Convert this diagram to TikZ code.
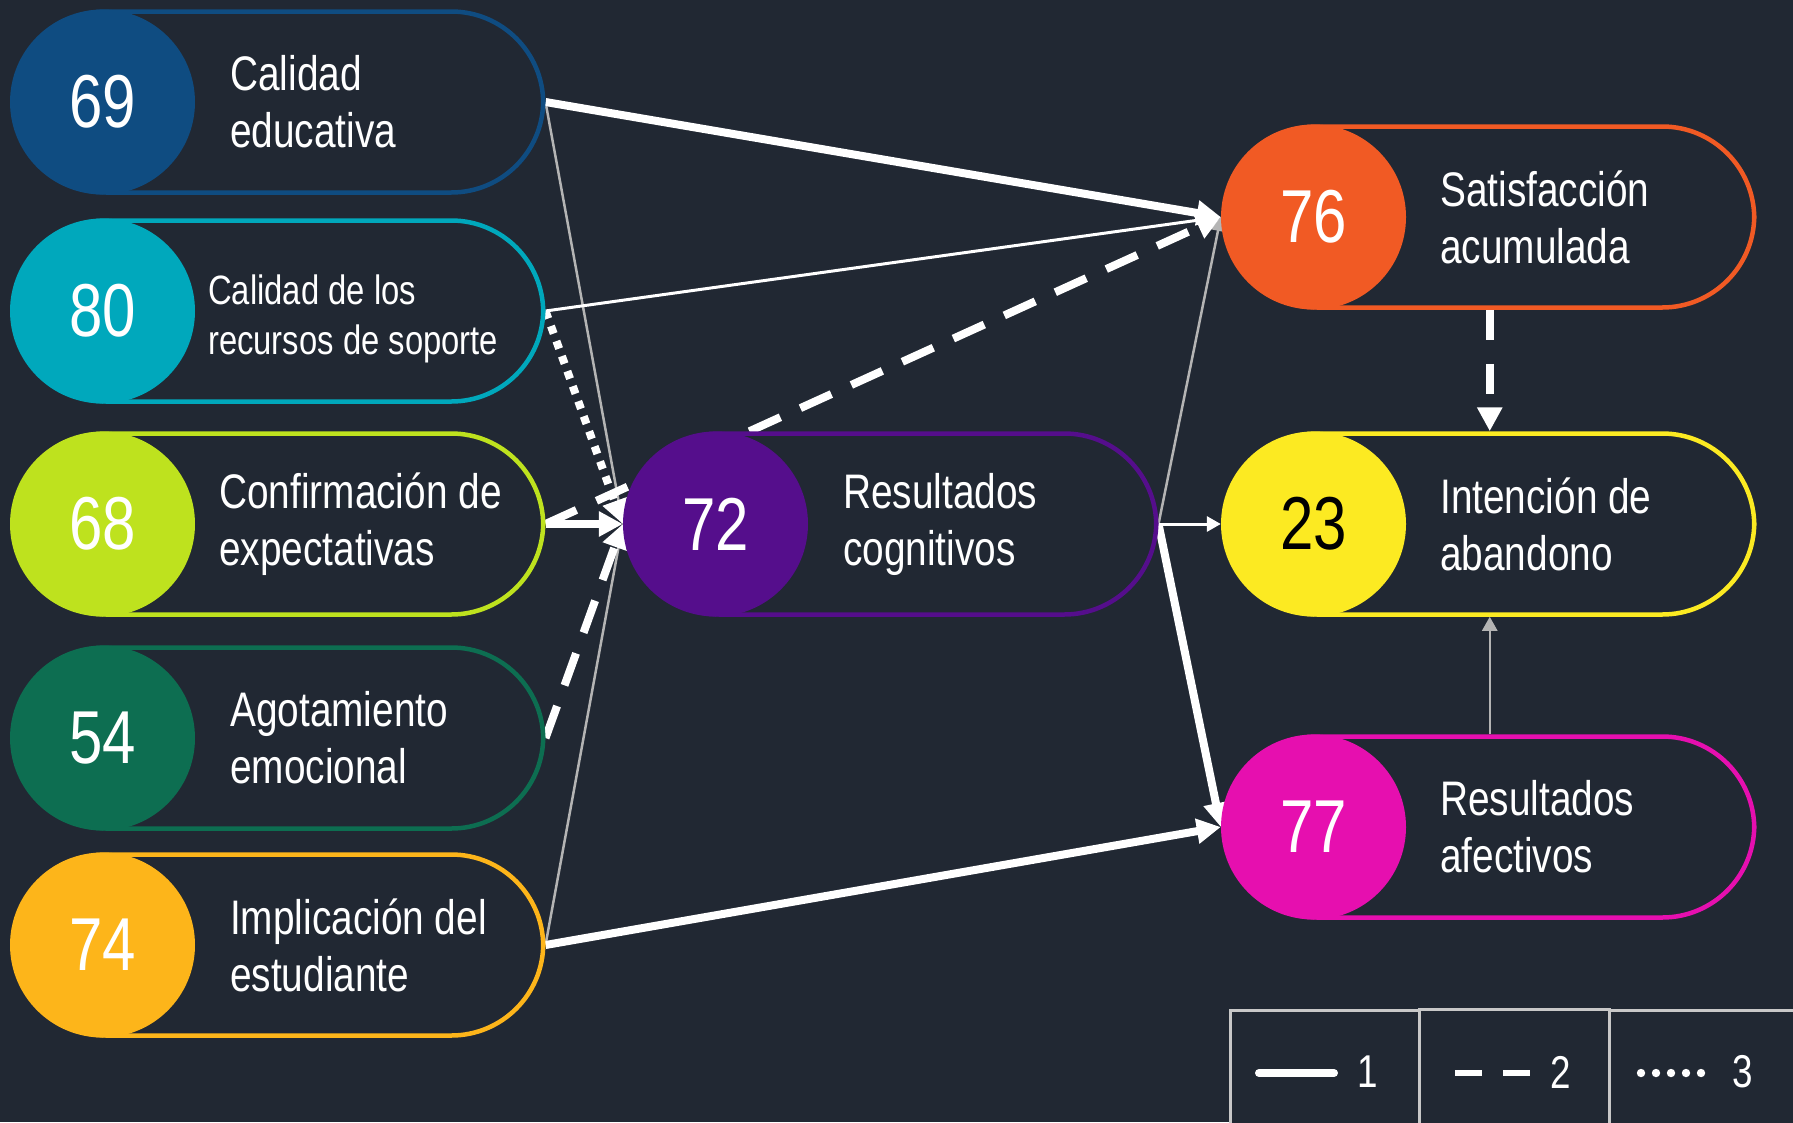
\documentclass[tikz,border=0pt]{standalone}
\usepackage{fontspec}
\setmainfont{Liberation Sans}[FakeStretch=0.8]
\usetikzlibrary{arrows.meta}
\definecolor{bgc}{HTML}{212833}
\definecolor{cA}{HTML}{0F4C81}
\definecolor{cB}{HTML}{00A8BC}
\definecolor{cC}{HTML}{BEE21E}
\definecolor{cD}{HTML}{0D6E51}
\definecolor{cE}{HTML}{FDB51A}
\definecolor{cF}{HTML}{550E8C}
\definecolor{cG}{HTML}{F15A24}
\definecolor{cH}{HTML}{FCEA22}
\definecolor{cI}{HTML}{E60FAF}
\definecolor{grayln}{HTML}{B4B4B4}
\definecolor{legln}{HTML}{C8C8C8}
\pgfdeclarelayer{back}
\pgfdeclarelayer{lines}
\pgfsetlayers{back,lines,main}
\tikzset{
  pillbox/.style={rectangle, fill=bgc, line width=4.5pt, rounded corners=92pt,
    minimum width=529pt, minimum height=181pt, inner sep=0pt},
  numcircle/.style={circle, minimum size=185pt, inner sep=0pt,
    font=\fontsize{75}{75}\selectfont},
  labeltext/.style={anchor=west, align=left, text=white, inner sep=0pt,
    font=\fontsize{48.5}{57}\selectfont},
  smalllabel/.style={font=\fontsize{41}{50}\selectfont, yshift=-8pt},
  thickarr/.style={draw=white, line width=8pt, -{Triangle[length=24pt,width=24pt]}},
  thinarr/.style={draw=white, line width=3pt, -{Triangle[length=14pt,width=15pt]}},
  grayarr/.style={draw=grayln, line width=2.5pt, -{Triangle[length=14pt,width=15pt]}},
  dasharr/.style={draw=white, line width=8pt, dash pattern=on 34pt off 22pt,
    -{Triangle[length=24pt,width=24pt]}},
  dotarr/.style={draw=white, line width=8pt, dash pattern=on 8pt off 8pt,
    -{Triangle[length=24pt,width=24pt]}},
  legbox/.style={rectangle, draw=legln, line width=3pt, fill=bgc, anchor=north west,
    minimum height=140pt, inner sep=0pt},
  legnum/.style={text=white, inner sep=0pt, font=\fontsize{46}{46}\selectfont}
}
\newcommand\mypill[9]{%
  \node[pillbox, draw=#4, anchor=west] (p#1) at ({#2+2},#3) {};
  \node[numcircle, fill=#4, text=#6] (c#1) at ({#2+92.5},#3) {#5};
  \node[labeltext, #9] (t#1) at (#7,#3) {#8};
}
\begin{document}
\begin{tikzpicture}[x=1pt,y=-1pt]
\begin{pgfonlayer}{back}
\fill[bgc] (0,0) rectangle (1793,1122);
\end{pgfonlayer}
\useasboundingbox (0,0) rectangle (1793,1122);

% left column
\mypill{69}{10}{102}{cA}{69}{white}{230}{Calidad\\educativa}{}
\mypill{80}{10}{311}{cB}{80}{white}{208}{Calidad de los\\recursos de soporte}{smalllabel}
\mypill{68}{10}{524}{cC}{68}{white}{219}{Confirmación de\\expectativas}{}
\mypill{54}{10}{738}{cD}{54}{white}{230}{Agotamiento\\emocional}{}
\mypill{74}{10}{945}{cE}{74}{white}{230}{Implicación del\\estudiante}{}
% middle
\mypill{72}{623}{524}{cF}{72}{white}{843}{Resultados\\cognitivos}{}
% right column
\mypill{76}{1221}{217}{cG}{76}{white}{1440}{Satisfacción\\acumulada}{}
\mypill{23}{1221}{524}{cH}{23}{black}{1440}{Intención de\\abandono}{}
\mypill{77}{1221}{827}{cI}{77}{white}{1440}{Resultados\\afectivos}{}

% connectors
\begin{pgfonlayer}{lines}
\draw[grayarr] (p69.east) -- (c72.west);
\draw[grayarr] (p74.east) -- (c72.west);
\draw[grayarr] (p72.east) -- (c76.west);
\draw[thinarr] (p80.east) -- (c76.west);
\draw[dasharr] (p68.east) -- (c76.west);
\draw[thickarr] (p69.east) -- (c76.west);
\draw[dotarr] (p80.east) -- (c72.west);
\draw[dasharr] (p54.east) -- (c72.west);
\draw[thickarr] (p68.east) -- (c72.west);
\draw[thickarr] (p74.east) -- (c77.west);
\draw[thinarr] (p72.east) -- (c23.west);
\draw[thickarr] (p72.east) -- (c77.west);
\draw[dasharr, dash pattern=on 30pt off 24pt] (p76.south) -- (p23.north);
\draw[grayarr] (p77.north) -- (p23.south);
\end{pgfonlayer}

% legend
\node[legbox, minimum width=189pt] (lg1) at (1229,1009) {};
\node[legbox, minimum width=190pt] (lg2) at (1418,1008) {};
\node[legbox, minimum width=200pt] (lg3) at (1608,1009) {};
\draw[white, line width=8pt, line cap=round] (1259,1073) -- (1334,1073);
\node[legnum] (ln1) at (1368,1072) {1};
\draw[white, line width=6pt, dash pattern=on 27pt off 21pt] (1455,1073) -- (1530,1073);
\node[legnum] (ln2) at (1561,1072) {2};
\foreach \xx in {1641,1656,1671,1686,1701}
  \fill[white] (\xx,1073) circle (4.2pt);
\node[legnum] (ln3) at (1743,1072) {3};
\end{tikzpicture}
\end{document}
